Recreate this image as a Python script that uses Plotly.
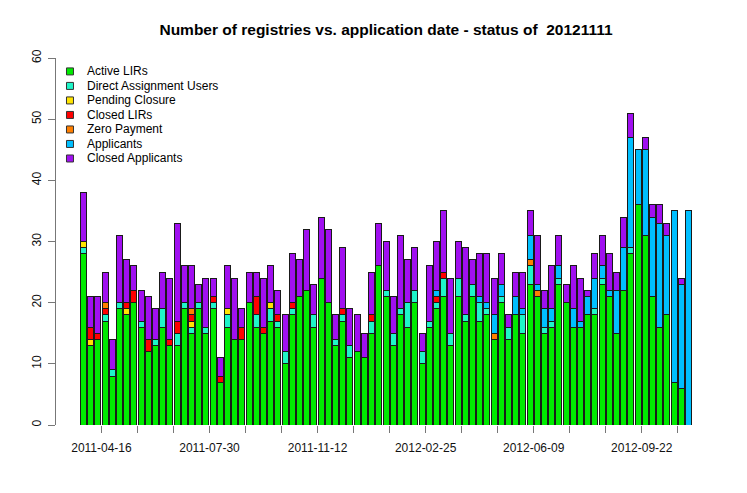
import plotly.graph_objects as go

# ---- data ----
series_names = ["Active LIRs", "Direct Assignment Users", "Pending Closure",
                "Closed LIRs", "Zero Payment", "Applicants", "Closed Applicants"]

active_lirs = [28, 13, 14, 17, 8, 19, 18, 20, 16, 12, 13, 16, 13, 13, 19, 15, 19, 15, 19, 7,
               16, 14, 14, 20, 16, 15, 17, 16, 10, 18, 21, 22, 16, 24, 20, 13, 17, 11, 12, 11,
               15, 26, 21, 13, 18, 16, 20, 10, 16, 19, 21, 13, 21, 17, 21, 17, 18, 14, 20, 14,
               18, 15, 23, 21, 15, 16, 23, 20, 16, 16, 18, 18, 23, 21, 15, 22, 28, 36, 31, 21,
               16, 18, 7, 6, 0]
direct_assignment = [1, 0, 0, 1, 1, 1, 0, 0, 1, 0, 1, 3, 0, 2, 1, 1, 1, 1, 1, 0,
                     2, 0, 0, 0, 2, 0, 2, 1, 2, 1, 0, 0, 2, 0, 0, 1, 1, 2, 0, 0,
                     2, 0, 1, 2, 1, 4, 2, 2, 1, 1, 3, 2, 3, 1, 2, 3, 1, 0, 1, 2,
                     0, 3, 3, 0, 1, 1, 1, 0, 0, 0, 0, 1, 1, 0, 0, 0, 1, 0, 0, 0,
                     0, 0, 0, 0, 0]
pending_closure = [1, 1, 0, 0, 0, 0, 1, 0, 0, 0, 0, 0, 0, 0, 0, 1, 0, 0, 0, 0,
                   1, 0, 0, 0, 0, 0, 1, 0, 0, 0, 0, 0, 0, 0, 0, 0, 0, 0, 0, 0,
                   0, 0, 0, 0, 0, 0, 0, 0, 0, 0, 0, 0, 0, 0, 0, 0, 0, 0, 0, 0,
                   0, 0, 0, 0, 0, 0, 0, 0, 0, 0, 0, 0, 0, 0, 0, 0, 0, 0, 0, 0,
                   0, 0, 0, 0, 0]
closed_lirs = [0, 2, 1, 1, 0, 0, 1, 2, 0, 2, 0, 0, 1, 2, 0, 1, 0, 0, 1, 1,
               0, 0, 2, 0, 3, 1, 0, 1, 0, 1, 0, 0, 0, 0, 0, 0, 1, 0, 0, 0,
               1, 0, 0, 0, 0, 0, 0, 0, 0, 1, 1, 0, 0, 0, 0, 0, 0, 0, 0, 0,
               0, 0, 0, 0, 0, 0, 0, 0, 0, 0, 0, 0, 0, 0, 0, 0, 0, 0, 0, 0,
               0, 0, 0, 0, 0]
zero_payment = [0, 0, 0, 1, 0, 0, 0, 0, 0, 0, 0, 0, 0, 0, 0, 1, 0, 0, 0, 0,
                0, 0, 0, 0, 0, 0, 0, 0, 0, 0, 0, 0, 0, 0, 0, 0, 0, 0, 0, 0,
                0, 0, 0, 0, 0, 0, 0, 0, 0, 0, 0, 0, 0, 0, 0, 0, 0, 1, 0, 0,
                0, 0, 1, 1, 0, 0, 0, 0, 0, 0, 0, 0, 0, 0, 0, 0, 0, 0, 0, 0,
                0, 0, 0, 0, 0]
applicants = [0, 0, 0, 0, 0, 0, 0, 0, 0, 0, 0, 0, 0, 0, 0, 0, 0, 0, 0, 0,
              0, 0, 0, 0, 0, 0, 0, 0, 0, 0, 0, 0, 0, 0, 0, 0, 0, 0, 0, 0,
              0, 0, 0, 0, 0, 0, 0, 0, 0, 1, 0, 0, 0, 0, 0, 1, 1, 3, 2, 0,
              3, 1, 4, 1, 3, 2, 2, 0, 3, 1, 3, 5, 2, 1, 7, 7, 18, 9, 14, 13,
              17, 13, 28, 17, 35]
closed_applicants = [8, 5, 6, 5, 5, 11, 7, 4, 5, 7, 5, 6, 10, 16, 6, 7, 3, 8, 3, 3,
                     7, 10, 3, 5, 4, 8, 6, 4, 6, 8, 6, 10, 5, 10, 12, 4, 10, 6, 6, 4,
                     7, 7, 8, 6, 12, 7, 7, 3, 9, 8, 10, 9, 6, 11, 4, 7, 8, 6, 5, 2,
                     4, 6, 4, 8, 3, 7, 5, 3, 7, 7, 1, 4, 5, 6, 3, 5, 4, 0, 2, 2,
                     3, 2, 0, 1, 0]

tick_labels = ["2011-04-16", "2011-07-30", "2011-11-12",
               "2012-02-25", "2012-06-09", "2012-09-22"]

title_text = "Number of registries vs. application date - status of \u00a020121111"

# ---- styles ----
colors = ["#00EA00", "#1EF5C8", "#FFE400", "#FF0000", "#FF7F00", "#00BFFF", "#A010F0"]
series = [active_lirs, direct_assignment, pending_closure, closed_lirs,
          zero_payment, applicants, closed_applicants]

W, H = 747, 493
L, R, T, B = 55.5, 30.7, 58.3, 68.0
plot_w = W - L - R
plot_h = H - T - B

# barplot geometry (width 1, space 0.2)
n = len(active_lirs)
xpos = [1.2 * (i + 1) - 0.5 for i in range(n)]
xmin, xmax = 0.2, 1.2 * n
pad = 0.04 * (xmax - xmin)
xrange = [xmin - pad, xmax + pad]

tick_bars = list(range(3, n, 5))
tickvals = [1.2 * k + 0.1 for k in tick_bars]
ticktext = []
li = 0
for j, k in enumerate(tick_bars):
    if j % 3 == 0 and li < len(tick_labels):
        ticktext.append(tick_labels[li])
        li += 1
    else:
        ticktext.append("")

fig = go.Figure()
for name, vals, col in zip(series_names, series, colors):
    fig.add_trace(go.Bar(
        x=xpos, y=vals, width=1.0, name=name, showlegend=False,
        marker=dict(color=col, line=dict(color="#1a1a1a", width=1)),
    ))

FONT = "Liberation Sans, Arial, Helvetica, sans-serif"

def px2x(px):
    return (px - L) / plot_w

def px2y(py):
    return (H - B - py) / plot_h

# manual legend (R-style, no box)
shapes = []
annotations = []
leg_y0, leg_dy = 71.7, 14.5
for i, (name, col) in enumerate(zip(series_names, colors)):
    cy = leg_y0 + i * leg_dy
    shapes.append(dict(type="rect", xref="paper", yref="paper",
                       x0=px2x(66.0), x1=px2x(73.0),
                       y0=px2y(cy + 3.5), y1=px2y(cy - 3.5),
                       fillcolor=col, line=dict(color="#333", width=1)))
    annotations.append(dict(xref="paper", yref="paper", x=px2x(84.5), y=px2y(cy),
                            xanchor="left", yanchor="middle", showarrow=False,
                            text=name, font=dict(family=FONT, size=12, color="#000")))

fig.update_layout(
    width=W, height=H,
    margin=dict(l=L, r=R, t=T, b=B, pad=0),
    paper_bgcolor="white", plot_bgcolor="white",
    barmode="stack",
    title=dict(text="<b>" + title_text + "</b>", x=0.5, xref="paper",
               y=1 - 30.0 / H, yref="container", xanchor="center", yanchor="middle",
               font=dict(family=FONT, size=15.5, color="#000")),
    xaxis=dict(range=xrange, showgrid=False, zeroline=False, showline=False,
               tickmode="array", tickvals=tickvals, ticktext=ticktext,
               ticks="outside", ticklen=7, tickcolor="#777", tickwidth=1,
               ticklabelstandoff=5,
               tickfont=dict(family=FONT, size=12, color="#111")),
    yaxis=dict(range=[0, 60], showgrid=False, zeroline=False, showline=True,
               linecolor="#777", linewidth=1,
               tickmode="array", tickvals=[0, 10, 20, 30, 40, 50, 60],
               ticks="outside", ticklen=7, tickcolor="#777", tickwidth=1,
               tickangle=-90, ticklabelstandoff=2,
               tickfont=dict(family=FONT, size=12, color="#111")),
    shapes=shapes, annotations=annotations,
    showlegend=False,
)

fig.write_html("out.html", config={"displayModeBar": False},
               post_script="document.body.style.margin='0';")
